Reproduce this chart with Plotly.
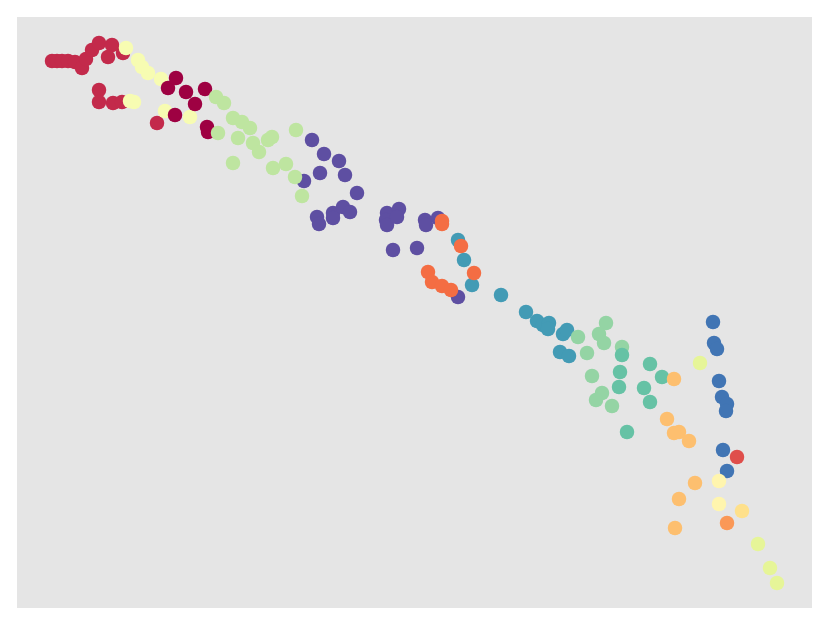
import plotly.graph_objects as go

# Spectral colours for 16 clusters (index 0..15)
cluster_colors = ["#9e0142", "#c32a4b", "#df4e4b", "#f46d43", "#fa9857", "#fdbf6f",
                  "#fee08b", "#fff5ae", "#f7fcb2", "#e6f598", "#bee5a0", "#94d4a4",
                  "#66c2a5", "#439bb5", "#4175b4", "#5e4fa2"]

# cluster 0 (dark red)
x0 = [168, 176, 186, 205, 195, 175, 207, 208]
y0 = [88, 78, 92, 89, 104, 115, 127, 132]
# cluster 1 (crimson)
x1 = [52, 57, 62, 68, 75, 82, 86, 92, 99, 112, 108, 123, 99, 99, 113, 122, 157]
y1 = [61, 61, 61, 61, 62, 68, 59, 50, 43, 45, 57, 53, 90, 102, 103, 102, 123]
# cluster 2 (red)
x2 = [737]
y2 = [457]
# cluster 3 (orange)
x3 = [442, 442, 461, 474, 428, 432, 442, 451]
y3 = [221, 224, 246, 273, 272, 282, 286, 290]
# cluster 4 (orange 2)
x4 = [727]
y4 = [523]
# cluster 5 (light orange)
x5 = [674, 667, 679, 674, 689, 695, 679, 675]
y5 = [379, 419, 432, 433, 441, 483, 499, 528]
# cluster 6 (yellow)
x6 = [742]
y6 = [511]
# cluster 7 (cream)
x7 = [719, 719]
y7 = [481, 504]
# cluster 8 (pale yellow)
x8 = [126, 138, 142, 148, 161, 130, 134, 165, 190]
y8 = [48, 60, 67, 73, 79, 101, 102, 111, 117]
# cluster 9 (yellow-green)
x9 = [700, 758, 770, 777]
y9 = [363, 544, 568, 583]
# cluster 10 (light green)
x10 = [216, 224, 233, 242, 250, 218, 238, 253, 259, 268, 272, 296, 233, 273, 286, 295, 302]
y10 = [97, 103, 118, 122, 128, 133, 138, 143, 152, 140, 137, 130, 163, 168, 164, 177, 196]
# cluster 11 (green)
x11 = [578, 587, 606, 599, 604, 622, 592, 602, 596, 612]
y11 = [337, 353, 323, 334, 343, 347, 376, 393, 400, 406]
# cluster 12 (teal green)
x12 = [622, 620, 619, 650, 662, 644, 650, 627]
y12 = [355, 372, 387, 364, 377, 388, 402, 432]
# cluster 13 (teal blue)
x13 = [458, 464, 472, 501, 526, 537, 543, 549, 548, 563, 567, 560, 569]
y13 = [240, 260, 285, 295, 312, 321, 325, 323, 329, 334, 330, 352, 356]
# cluster 14 (blue)
x14 = [713, 714, 717, 719, 722, 727, 726, 723, 727]
y14 = [322, 343, 349, 381, 397, 404, 411, 450, 471]
# cluster 15 (purple)
x15 = [312, 324, 339, 320, 345, 304, 357, 317, 319, 333, 333, 343, 350,
       387, 386, 387, 399, 397, 425, 426, 438, 393, 417, 458]
y15 = [140, 154, 161, 173, 175, 181, 193, 217, 224, 213, 218, 207, 212,
       213, 220, 225, 209, 217, 220, 225, 218, 250, 248, 297]

xs = [x0, x1, x2, x3, x4, x5, x6, x7, x8, x9, x10, x11, x12, x13, x14, x15]
ys = [y0, y1, y2, y3, y4, y5, y6, y7, y8, y9, y10, y11, y12, y13, y14, y15]

draw_order = [15, 1, 8, 0, 10, 13, 3, 11, 12, 5, 14, 2, 9, 7, 6, 4]

fig = go.Figure()
for k in draw_order:
    fig.add_trace(go.Scatter(
        x=xs[k], y=ys[k], mode="markers",
        marker=dict(size=14.5, color=cluster_colors[k], line=dict(width=0)),
        showlegend=False, hoverinfo="skip"))

fig.update_layout(
    width=813, height=609,
    margin=dict(l=9, r=9, t=9, b=9),
    paper_bgcolor="white", plot_bgcolor="#e5e5e5",
    template="none",
)
fig.update_xaxes(range=[17, 812], showgrid=False, zeroline=False,
                 showticklabels=False, ticks="", showline=False)
fig.update_yaxes(range=[608, 17], showgrid=False, zeroline=False,
                 showticklabels=False, ticks="", showline=False)

fig.write_html("out.html")
